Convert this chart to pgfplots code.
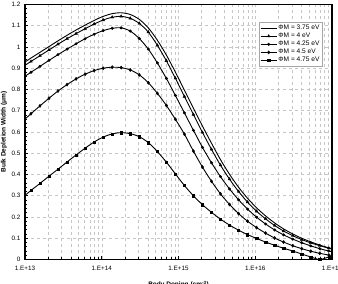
\documentclass[border=0pt]{standalone}
\usepackage{pgfplots}
\pgfplotsset{compat=1.18}
\usepackage{pgfplotstable}
\usepackage{fontspec}
\setmainfont{Liberation Sans}

% Bulk depletion width (um) versus body doping (cm^-3) for five gate work functions
\pgfplotstableread{
N        A      B      C      D      E
9.12e12  0.920  0.905  0.853  0.648  0.290
1.196e13 0.948  0.932  0.881  0.686  0.325
1.567e13 0.975  0.959  0.909  0.723  0.358
2.055e13 1.002  0.986  0.937  0.759  0.392
2.69e13  1.029  1.013  0.964  0.793  0.425
3.53e13  1.055  1.039  0.990  0.823  0.459
4.63e13  1.080  1.063  1.015  0.850  0.492
6.07e13  1.103  1.086  1.039  0.872  0.524
7.96e13  1.125  1.108  1.060  0.889  0.553
1.043e14 1.144  1.127  1.077  0.900  0.576
1.368e14 1.157  1.140  1.088  0.905  0.591
1.79e14  1.161  1.144  1.090  0.903  0.597
2.35e14  1.153  1.135  1.075  0.892  0.592
3.08e14  1.130  1.111  1.040  0.869  0.578
4.04e14  1.090  1.070  0.990  0.832  0.550
5.30e14  1.032  1.008  0.925  0.782  0.508
6.95e14  0.962  0.935  0.852  0.725  0.458
9.10e14  0.882  0.853  0.772  0.660  0.403
1.194e15 0.797  0.767  0.690  0.590  0.348
1.564e15 0.712  0.682  0.608  0.510  0.300
2.05e15  0.628  0.598  0.528  0.435  0.258
2.69e15  0.547  0.518  0.455  0.368  0.222
3.52e15  0.470  0.444  0.390  0.309  0.190
4.62e15  0.401  0.378  0.332  0.259  0.162
6.06e15  0.340  0.320  0.281  0.216  0.138
7.94e15  0.288  0.270  0.237  0.180  0.117
1.042e16 0.243  0.227  0.199  0.150  0.099
1.365e16 0.205  0.191  0.167  0.124  0.082
1.79e16  0.172  0.160  0.139  0.101  0.067
2.34e16  0.144  0.134  0.116  0.082  0.053
3.08e16  0.120  0.112  0.096  0.065  0.040
4.03e16  0.100  0.094  0.079  0.051  0.026
5.29e16  0.083  0.078  0.064  0.039  0.012
6.93e16  0.068  0.065  0.051  0.029  0.000
9.08e16  0.055  0.053  0.040  0.021  0.012
1.19e17  0.045  0.043  0.031  0.015  0.025
}\depletion

\begin{document}
\begin{tikzpicture}
\begin{axis}[
  name=ax,
  scale only axis,
  width=307pt, height=255pt,
  xmode=log,
  xmin=1e13, xmax=1e17,
  ymin=0, ymax=1.2,
  xtick={1e13,1e14,1e15,1e16,1e17},
  xticklabels={1.E+13,1.E+14,1.E+15,1.E+16,1.E+17},
  ytick={0,0.1,0.2,0.3,0.4,0.5,0.6,0.7,0.8,0.9,1,1.1,1.2},
  yticklabels={0,0.1,0.2,0.3,0.4,0.5,0.6,0.7,0.8,0.9,1,1.1,1.2},
  minor y tick num=4,
  xtick pos=bottom, ytick pos=left,
  tick align=inside,
  major tick length=3pt, minor tick length=2.2pt,
  every tick/.style={black, line width=0.6pt},
  xmajorgrids, xminorgrids, ymajorgrids,
  major grid style={gray!45, dashed, line width=0.5pt},
  minor grid style={gray!45, dashed, line width=0.5pt},
  axis line style={black, line width=1.2pt},
  tick label style={font=\fontsize{6.3}{7}\selectfont},
  xticklabel style={inner sep=0pt, yshift=-6.5pt},
  yticklabel style={inner sep=0pt, xshift=-4.5pt},
  xlabel={\textbf{Body Doping (cm\textsuperscript{-3})}},
  ylabel={\textbf{Bulk Depletion Width (μm)}},
  every axis x label/.style={at={([yshift=-21.5pt]axis description cs:0.5,0)}, anchor=north, inner sep=0pt, font=\fontsize{6.5}{7}\selectfont},
  every axis y label/.style={at={([xshift=-21pt]axis description cs:0,0.5)}, rotate=90, anchor=center, inner sep=0pt, font=\fontsize{6.5}{7}\selectfont},
  legend style={at={(axis description cs:1,1)}, anchor=north east,
    xshift=-10pt, yshift=-17.5pt, draw=gray!70, line width=0.5pt, fill=white,
    font=\fontsize{6.6}{7}\selectfont, row sep=-0.6pt, inner xsep=1pt, inner ysep=1.5pt,
    nodes={inner sep=1.3pt}},
  legend cell align=left,
  legend image code/.code={
    \draw[mark repeat=2, mark phase=2] plot coordinates {(0pt,0pt) (8pt,0pt) (16pt,0pt)};},
  every axis plot/.append style={black, line width=0.9pt, mark size=1.3pt,
    every mark/.append style={solid, fill=black, line width=0.4pt}},
]
\addplot[smooth, mark=none] table[x=N, y=A] {\depletion};
\addlegendentry{ΦM = 3.75 eV}
\addplot[smooth, mark=triangle*, mark size=1.6pt] table[x=N, y=B] {\depletion};
\addlegendentry{ΦM = 4 eV}
\addplot[smooth, mark=*] table[x=N, y=C] {\depletion};
\addlegendentry{ΦM = 4.25 eV}
\addplot[smooth, mark=diamond*, mark size=1.6pt] table[x=N, y=D] {\depletion};
\addlegendentry{ΦM = 4.5 eV}
\addplot[smooth, mark=square*, mark size=1.1pt] table[x=N, y=E] {\depletion};
\addlegendentry{ΦM = 4.75 eV}
\end{axis}
\pgfresetboundingbox
\path[use as bounding box] ([shift={(-25pt,-24.5pt)}]ax.south west) rectangle ++(338pt,284pt);
\end{tikzpicture}
\end{document}
